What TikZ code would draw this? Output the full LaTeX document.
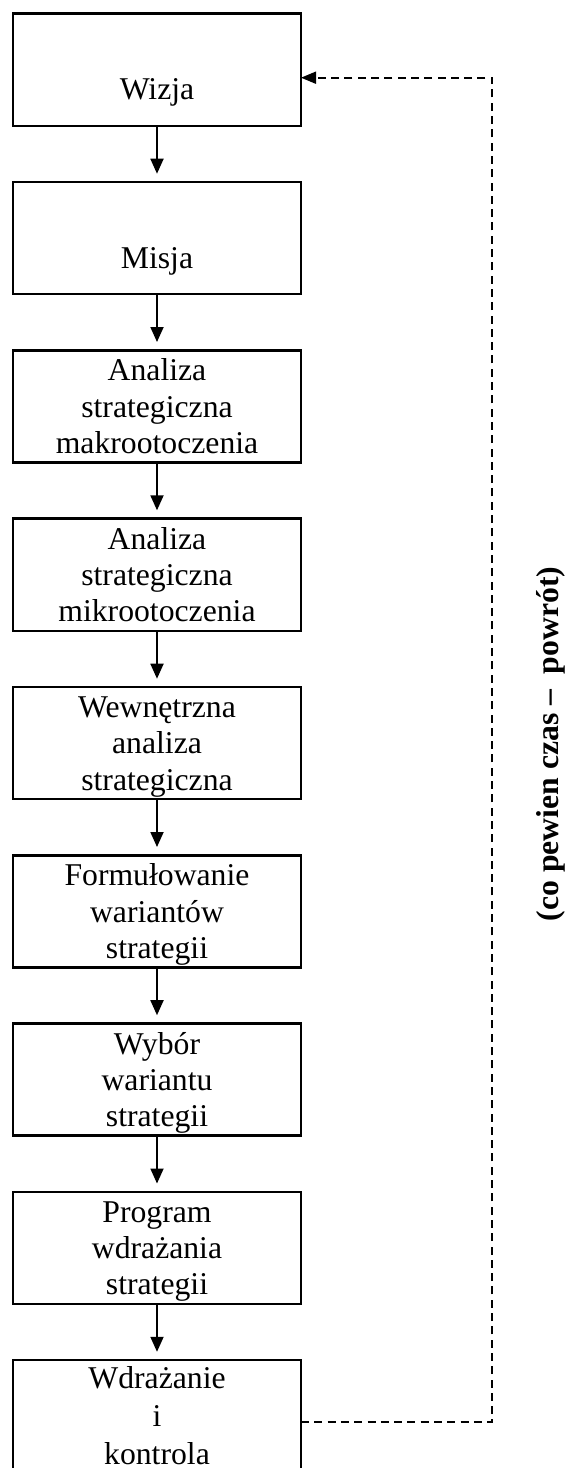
\documentclass[tikz,border=0pt]{standalone}
\usepackage{fontspec}
\setmainfont{Liberation Serif}
\usetikzlibrary{arrows.meta}

\begin{document}
\begin{tikzpicture}[x=1pt, y=-1pt,
  stepbox/.style={draw, line width=2.5pt, outer sep=0pt, inner xsep=0pt, inner ysep=0pt,
    text width=288pt, align=center, anchor=north,
    font=\fontsize{31.7pt}{36.3pt}\selectfont},
  onerow/.style={stepbox, text height=86pt, text depth=26.2pt},
  threerows/.style={stepbox, text height=30.5pt, text depth=81.7pt},
  flow/.style={line width=1.8pt, -{Triangle[length=15pt, width=13pt]}, shorten >=8.3pt},
  backline/.style={line width=1.8pt, dash pattern=on 8pt off 5.3pt,
    -{Triangle[length=15pt, width=12pt]}},
  note/.style={font=\fontsize{31.7pt}{36pt}\selectfont\bfseries, rotate=90, anchor=base,
    inner sep=0pt}
]
\useasboundingbox (0,0) rectangle (566,1468);
\clip (0,0) rectangle (566,1468);

% process steps, top to bottom
\node[onerow]    (b1) at (157,13.7)   {Wizja};
\node[onerow]    (b2) at (157,182.0)  {Misja};
\node[threerows] (b3) at (157,350.3)  {Analiza\\strategiczna\\makrootoczenia};
\node[threerows] (b4) at (157,518.6)  {Analiza\\strategiczna\\mikrootoczenia};
\node[threerows] (b5) at (157,687.0)  {Wewnętrzna\\analiza\\strategiczna};
\node[threerows] (b6) at (157,855.3)  {Formułowanie\\wariantów\\strategii};
\node[threerows] (b7) at (157,1023.5) {Wybór\\wariantu\\strategii};
\node[threerows] (b8) at (157,1191.8) {Program\\wdrażania\\strategii};
\node[stepbox, text height=28.8pt, text depth=95.6pt,
      font=\fontsize{31.7pt}{37.6pt}\selectfont]
                 (b9) at (157,1360.1) {Wdrażanie\\i\\kontrola};

% arrows between consecutive steps
\foreach \a/\b in {b1/b2, b2/b3, b3/b4, b4/b5, b5/b6, b6/b7, b7/b8, b8/b9}
  \draw[flow] (\a.south) -- (\b.north);

% feedback loop back to the vision
\coordinate (rtop) at (492.3,77.7);
\coordinate (rbot) at (492.3,1422.3);
\draw[backline] (b9.east) -- (rbot) -- (rtop) -- (b1.east |- rtop);

\node[note] (loop) at (558,744) {(co pewien czas –\ \ powrót)};
\end{tikzpicture}
\end{document}
